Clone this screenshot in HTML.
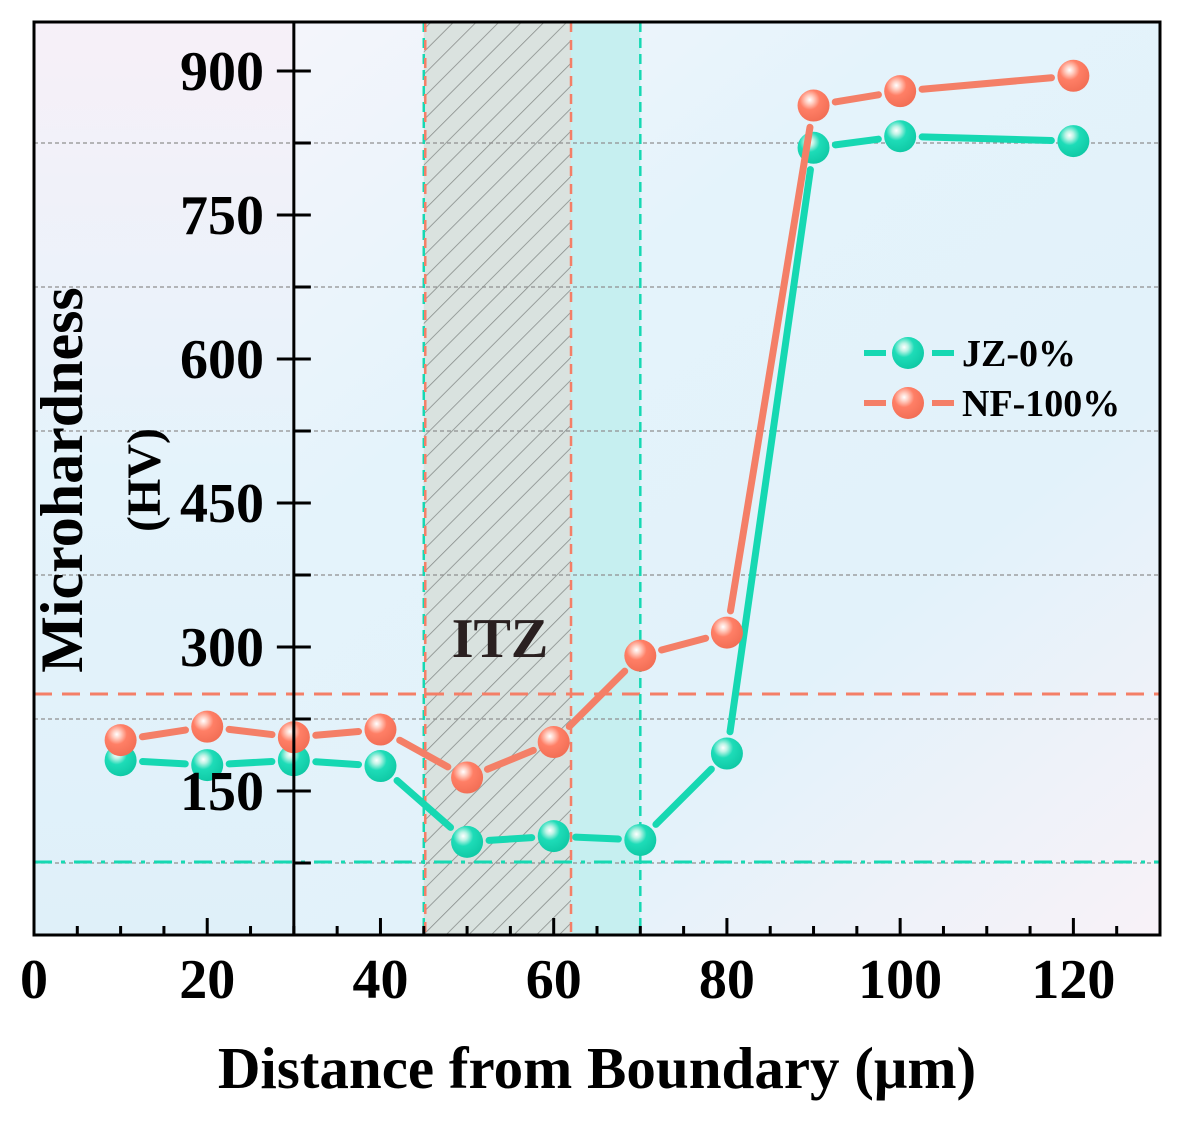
<!DOCTYPE html>
<html><head><meta charset="utf-8"><style>
body{margin:0;background:#fff}
svg{display:block;font-family:"Liberation Serif",serif;font-weight:bold}
</style></head><body>
<svg id="c" width="1187" height="1121" viewBox="0 0 1187 1121">
<defs>
<linearGradient id="bg" x1="0" y1="0" x2="1" y2="1">
<stop offset="0" stop-color="#fbf6fb"/><stop offset="0.4" stop-color="#e4f3fb"/><stop offset="0.7" stop-color="#e2f2fa"/><stop offset="1" stop-color="#f8f2f8"/></linearGradient>
<linearGradient id="bgl" x1="0" y1="0" x2="0" y2="1">
<stop offset="0" stop-color="#f7f0f8"/><stop offset="0.5" stop-color="#e4f3fb"/><stop offset="1" stop-color="#dff0f9"/></linearGradient>
<pattern id="hatch" width="16" height="16" patternUnits="userSpaceOnUse" patternTransform="rotate(45)">
<rect width="16" height="16" fill="#d8e0dc"/><line x1="0" y1="0" x2="0" y2="16" stroke="#7d827f" stroke-width="1.6"/></pattern>
<radialGradient id="gT" cx="0.38" cy="0.32" r="0.7"><stop offset="0" stop-color="#fff"/><stop offset="0.18" stop-color="#bff3e6"/><stop offset="0.45" stop-color="#1edcb8"/><stop offset="1" stop-color="#0fc9a5"/></radialGradient>
<radialGradient id="gO" cx="0.38" cy="0.32" r="0.7"><stop offset="0" stop-color="#fff"/><stop offset="0.18" stop-color="#ffd0c4"/><stop offset="0.45" stop-color="#ff7f66"/><stop offset="1" stop-color="#f26e55"/></radialGradient>
</defs>
</svg>
<script>
const xs=[10,20,30,40,50,60,70,80,90,100,120];
const jz=[182,177,182,176,97,103,99,189,820,832,827];
const nf=[203,217,206,214,164,201,291,315,864,879,895];
const yTicks=[150,300,450,600,750,900];
const xTicks=[0,20,40,60,80,100,120];
const L=34,R=1160,T=22,B=935;
const X=v=>L+(v/130)*(R-L);
const Y=v=>B-v*0.96;
const NS='http://www.w3.org/2000/svg';
const svg=document.getElementById('c');
function el(t,a,p){const e=document.createElementNS(NS,t);for(const k in a)e.setAttribute(k,a[k]);(p||svg).appendChild(e);return e;}
let e;
e=el('rect',{x:L,y:T,width:R-L,height:B-T,fill:'url(#bg)'});

e=el('rect',{x:L,y:T,width:X(30)-L,height:B-T,fill:'url(#bgl)'});

e=el('rect',{x:X(45),y:T,width:X(62)-X(45),height:B-T,fill:'url(#hatch)',opacity:0.9});

e=el('rect',{x:X(62),y:T,width:X(70)-X(62),height:B-T,fill:'#c6eff0'});

for(let v=75;v<950;v+=150){e=el('line',{x1:L,x2:R,y1:Y(v),y2:Y(v),stroke:'#8f8f8f','stroke-width':1.2,'stroke-dasharray':'4 3'});
}
e=el('line',{x1:L,x2:R,y1:Y(251),y2:Y(251),stroke:'#f47f67','stroke-width':3,'stroke-dasharray':'18 10'});

e=el('line',{x1:L,x2:R,y1:Y(76),y2:Y(76),stroke:'#16d8b2','stroke-width':3,'stroke-dasharray':'18 9 4 9'});

[45,70].forEach(v=>{e=el('line',{x1:X(v),x2:X(v),y1:T,y2:B,stroke:'#16d8b2','stroke-width':2.5,'stroke-dasharray':'10 6'});
});
[45,62].forEach(v=>{e=el('line',{x1:X(v)+(v==45?1.5:0),x2:X(v)+(v==45?1.5:0),y1:T,y2:B,stroke:'#f47f67','stroke-width':2.5,'stroke-dasharray':'10 8'});
});
e=el('text',{x:500,y:657,'font-size':56,'text-anchor':'middle',fill:'#2a2020'});e.textContent='ITZ';

function series(vals,color,grad,name){
 const g=el('g',{});
 for(let i=0;i<xs.length-1;i++){
  const x1=X(xs[i]),y1=Y(vals[i]),x2=X(xs[i+1]),y2=Y(vals[i+1]);
  const d=Math.hypot(x2-x1,y2-y1),ux=(x2-x1)/d,uy=(y2-y1)/d,g0=22;
  if(d>2*g0){const s=el('line',{x1:x1+ux*g0,y1:y1+uy*g0,x2:x2-ux*g0,y2:y2-uy*g0,stroke:color,'stroke-width':7,'stroke-linecap':'round'},g);
  }
 }
 for(let i=0;i<xs.length;i++){const c=el('circle',{cx:X(xs[i]),cy:Y(vals[i]),r:16,fill:'url(#'+grad+')'},g);
  }
}
series(jz,'#16d8b2','gT','jz-0');
series(nf,'#f47f67','gO','nf-100');
e=el('rect',{x:L,y:T,width:R-L,height:B-T,fill:'none',stroke:'#000','stroke-width':3});

e=el('line',{x1:X(30),x2:X(30),y1:T,y2:B,stroke:'#000','stroke-width':3});

for(let v=75;v<950;v+=75){const maj=v%150==0;e=el('line',{x1:X(30)-(maj?17:0),x2:X(30)+17,y1:Y(v),y2:Y(v),stroke:'#000','stroke-width':3});
}
yTicks.forEach(v=>{e=el('text',{x:264,y:Y(v)+19,'font-size':56,'text-anchor':'end'});e.textContent=v;
});
for(let v=5;v<130;v+=5){const maj=v%20==0;e=el('line',{x1:X(v),x2:X(v),y1:B,y2:B-(maj?17:9),stroke:'#000','stroke-width':3});
}
xTicks.forEach(v=>{e=el('text',{x:X(v),y:998,'font-size':56,'text-anchor':'middle'});e.textContent=v;
});
e=el('text',{x:597,y:1088,'font-size':59,'text-anchor':'middle'});e.textContent='Distance from Boundary (μm)';

e=el('text',{x:0,y:0,'font-size':60,'text-anchor':'middle',transform:'translate(82,480) rotate(-90)'});e.textContent='Microhardness';

e=el('text',{x:0,y:0,'font-size':48,'text-anchor':'middle',transform:'translate(160,480) rotate(-90)'});e.textContent='(HV)';

[['JZ-0%','#16d8b2','gT',353],['NF-100%','#f47f67','gO',403]].forEach(([t,c,g,y])=>{
 const lg=el('g',{});
 el('line',{x1:864,x2:954,y1:y,y2:y,stroke:c,'stroke-width':6,'stroke-dasharray':'22 12'},lg);
 el('circle',{cx:908,cy:y,r:16,fill:'url(#'+g+')'},lg);
 const tx=el('text',{x:962,y:y+13,'font-size':38},lg);tx.textContent=t;
});
</script>
</body></html>
